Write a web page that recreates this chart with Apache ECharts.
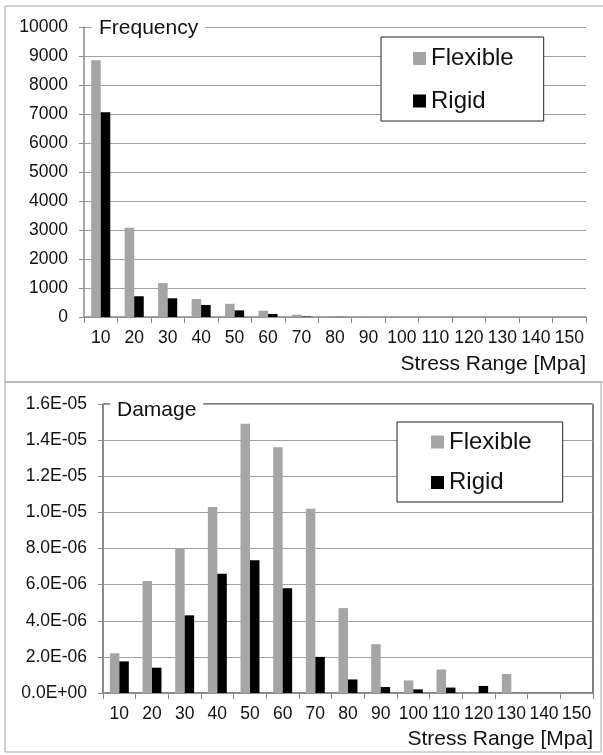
<!DOCTYPE html>
<html>
<head>
<meta charset="utf-8">
<script src="https://cdn.jsdelivr.net/npm/echarts@6/dist/echarts.min.js"></script>
<style>
html,body{margin:0;padding:0;background:#fff;}
#c{width:603px;height:755px;}
</style>
</head>
<body>
<div id="c"></div>
<script>
// ---- data ----
const categories = ['10','20','30','40','50','60','70','80','90','100','110','120','130','140','150'];
const freqFlexible = [8850, 3080, 1170, 620, 455, 217, 80, 25, 8, 3, 1, 0, 0, 0, 0];
const freqRigid    = [7060, 715, 645, 414, 228, 105, 15, 4, 1, 0, 0, 0, 0, 0, 0];
const dmgFlexible  = [2.2e-6, 6.2e-6, 8.0e-6, 1.03e-5, 1.49e-5, 1.36e-5, 1.02e-5, 4.7e-6, 2.7e-6, 0.7e-6, 1.3e-6, 0, 1.05e-6, 0, 0];
const dmgRigid     = [1.75e-6, 1.4e-6, 4.3e-6, 6.6e-6, 7.35e-6, 5.8e-6, 2.0e-6, 0.75e-6, 0.33e-6, 0.2e-6, 0.3e-6, 0.39e-6, 0, 0, 0];
const seriesNames  = ['Flexible', 'Rigid'];
const freqTicks = {min: 0, max: 10000, interval: 1000};
const dmgTicks  = {min: 0, max: 1.6e-5, interval: 2e-6};
const xAxisName = 'Stress Range [Mpa]';
const titles = ['Frequency', 'Damage'];

// ---- styles ----
const FONT = '"Liberation Sans", Arial, sans-serif';
const GREY = '#a5a5a5';
const BLACK = '#000000';
const GRID = '#a0a0a0';
const AXIS = '#8c8c8c';
const TXT = '#111111';

function sci(v) {
  if (v === 0) return '0.0E+00';
  const s = v.toExponential(1); // e.g. 1.6e-5
  const m = s.split('e');
  const exp = parseInt(m[1], 10);
  const sign = exp < 0 ? '-' : '+';
  const a = Math.abs(exp);
  return m[0] + 'E' + sign + (a < 10 ? '0' + a : '' + a);
}

const chart = echarts.init(document.getElementById('c'), null, {renderer: 'canvas'});

function xAxisCfg(gridIndex) {
  return {
    type: 'category', gridIndex, data: categories,
    axisLine: {lineStyle: {color: AXIS, width: 1.5}},
    axisTick: {show: true, length: 6, lineStyle: {color: AXIS, width: 1}},
    axisLabel: {color: TXT, fontFamily: FONT, fontSize: 17.5, margin: 12, interval: 0},
    splitLine: {show: false}
  };
}
function yAxisCfg(gridIndex, ticks, fmt) {
  return {
    type: 'value', gridIndex, min: ticks.min, max: ticks.max, interval: ticks.interval,
    axisLine: {show: true, lineStyle: {color: AXIS, width: 1.5}},
    axisTick: {show: true, length: 5, lineStyle: {color: AXIS}},
    axisLabel: {color: TXT, fontFamily: FONT, fontSize: 17.5, margin: 16, formatter: fmt},
    splitLine: {show: true, lineStyle: {color: GRID, width: 1}}
  };
}

const option = {
  animation: false,
  backgroundColor: '#ffffff',
  graphic: [
    {type: 'rect', shape: {x: 5, y: 6, width: 620, height: 376}, style: {fill: 'none', stroke: '#a6a6a6', lineWidth: 1}, z: 0, silent: true},
    {type: 'rect', shape: {x: 5, y: 382, width: 596, height: 370}, style: {fill: 'none', stroke: '#a6a6a6', lineWidth: 1}, z: 0, silent: true}
  ],
  title: [
    {text: titles[0], left: 92, top: 17, padding: [0, 7], backgroundColor: '#fff',
     textStyle: {fontFamily: FONT, fontSize: 21, fontWeight: 'normal', color: TXT, lineHeight: 22}, z: 10},
    {text: titles[1], left: 110, top: 399, padding: [0, 7], backgroundColor: '#fff',
     textStyle: {fontFamily: FONT, fontSize: 21, fontWeight: 'normal', color: TXT, lineHeight: 22}, z: 10},
    {text: xAxisName, right: 17, top: 353, padding: 0,
     textStyle: {fontFamily: FONT, fontSize: 21, fontWeight: 'normal', color: TXT, lineHeight: 22}},
    {text: xAxisName, right: 10, top: 728, padding: 0,
     textStyle: {fontFamily: FONT, fontSize: 21, fontWeight: 'normal', color: TXT, lineHeight: 22}}
  ],
  legend: [
    {data: seriesNames, orient: 'vertical', left: 381, top: 37,
     padding: [7.5, 30, 6, 32], itemGap: 14.5, itemWidth: 13, itemHeight: 13,
     borderColor: '#222', borderWidth: 1, backgroundColor: '#fff', icon: 'rect',
     textStyle: {fontFamily: FONT, fontSize: 24, color: TXT, lineHeight: 28}, z: 10},
    {data: seriesNames, orient: 'vertical', left: 397, top: 422,
     padding: [6, 31, 5.5, 34], itemGap: 12.5, itemWidth: 13, itemHeight: 13,
     borderColor: '#222', borderWidth: 1, backgroundColor: '#fff', icon: 'rect',
     textStyle: {fontFamily: FONT, fontSize: 24, color: TXT, lineHeight: 28}, z: 10}
  ],
  grid: [
    {left: 84, top: 27, width: 502, height: 290, containLabel: false},
    {left: 103, top: 404, width: 490, height: 289, containLabel: false, show: true, borderColor: '#000', borderWidth: 1}
  ],
  xAxis: [xAxisCfg(0), xAxisCfg(1)],
  yAxis: [
    yAxisCfg(0, freqTicks, v => String(v)),
    yAxisCfg(1, dmgTicks, v => sci(v))
  ],
  series: [
    {name: seriesNames[0], type: 'bar', xAxisIndex: 0, yAxisIndex: 0, data: freqFlexible,
     itemStyle: {color: GREY}, barGap: '0%', barCategoryGap: '43%'},
    {name: seriesNames[1], type: 'bar', xAxisIndex: 0, yAxisIndex: 0, data: freqRigid,
     itemStyle: {color: BLACK}, barGap: '0%', barCategoryGap: '43%'},
    {name: seriesNames[0], type: 'bar', xAxisIndex: 1, yAxisIndex: 1, data: dmgFlexible,
     itemStyle: {color: GREY}, barGap: '0%', barCategoryGap: '42%'},
    {name: seriesNames[1], type: 'bar', xAxisIndex: 1, yAxisIndex: 1, data: dmgRigid,
     itemStyle: {color: BLACK}, barGap: '0%', barCategoryGap: '42%'}
  ]
};
chart.setOption(option);
</script>
</body>
</html>
